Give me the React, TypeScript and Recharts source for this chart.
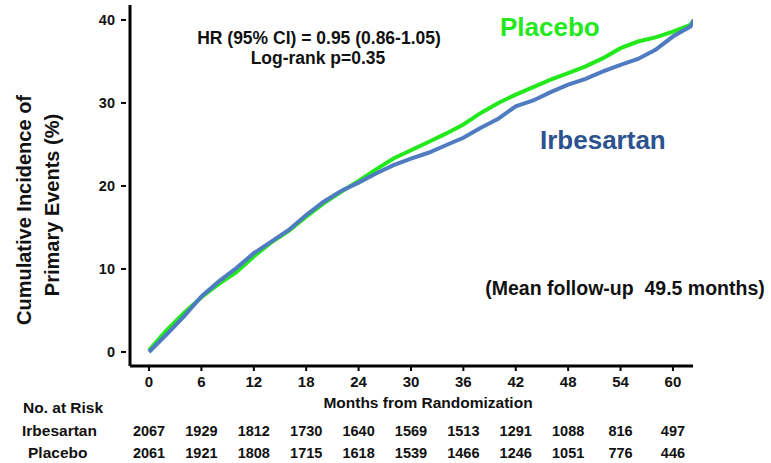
import { LineChart, Line, XAxis, YAxis } from "recharts";

// cumulative incidence curves
const months = [0, 2, 4, 6, 8, 10, 12, 14, 16, 18, 20, 22, 24, 26, 28, 30, 32, 34, 36, 38, 40, 42, 44, 46, 48, 50, 52, 54, 56, 58, 60, 62, 62.4];
const placebo = [0.2, 2.6, 4.7, 6.6, 8.2, 9.6, 11.5, 13.2, 14.6, 16.3, 17.9, 19.3, 20.6, 22.0, 23.3, 24.3, 25.3, 26.3, 27.4, 28.8, 30.0, 31.0, 31.9, 32.8, 33.6, 34.4, 35.4, 36.6, 37.4, 37.9, 38.6, 39.4, 40.0];
const irbesartan = [0.0, 2.1, 4.3, 6.7, 8.5, 10.1, 11.9, 13.3, 14.7, 16.5, 18.1, 19.4, 20.4, 21.5, 22.5, 23.3, 24.0, 24.9, 25.8, 27.0, 28.1, 29.6, 30.3, 31.3, 32.2, 32.9, 33.8, 34.6, 35.3, 36.4, 38.0, 39.2, 40.0];

// number at risk table
const riskMonths = [0, 6, 12, 18, 24, 30, 36, 42, 48, 54, 60];
const riskIrbesartan = [2067, 1929, 1812, 1730, 1640, 1569, 1513, 1291, 1088, 816, 497];
const riskPlacebo = [2061, 1921, 1808, 1715, 1618, 1539, 1466, 1246, 1051, 776, 446];

const yTicks = [0, 10, 20, 30, 40];

const FONT = "'Liberation Sans', Arial, Helvetica, sans-serif";
const GREEN = "#22e81c";
const BLUE = "#4f7cc0";
const BLUE_TEXT = "#2c5290";

const data = months.map((m, i) => ({
  month: m,
  placebo: placebo[i],
  irbesartan: irbesartan[i],
}));

const XTick = ({ x, y, payload }: any) => {
  const i = riskMonths.indexOf(payload.value);
  return (
    <g fontFamily={FONT} fontWeight="bold" fill="#111">
      <line x1={x} x2={x} y1={y} y2={y + 5} stroke="#000" strokeWidth={2} />
      <text x={x} y={y + 21} textAnchor="middle" fontSize={15}>
        {payload.value}
      </text>
      <text x={x} y={y + 70} textAnchor="middle" fontSize={14.5}>
        {riskIrbesartan[i]}
      </text>
      <text x={x} y={y + 92} textAnchor="middle" fontSize={14.5}>
        {riskPlacebo[i]}
      </text>
    </g>
  );
};

const YTick = ({ x, y, payload }: any) => (
  <g fontFamily={FONT} fontWeight="bold" fontSize={14.5} fill="#111">
    <text x={x - 15} y={y + 5} textAnchor="end">
      {payload.value}
    </text>
    <line x1={x - 9} x2={x - 4} y1={y} y2={y} stroke="#000" strokeWidth={2} />
  </g>
);

export default function App() {
  return (
    <div style={{ position: "absolute", left: 0, top: 0, width: 771, height: 463, background: "#fff" }}>
      <LineChart
        width={771}
        height={463}
        data={data}
        margin={{ top: 5, right: 78, left: 0, bottom: 67 }}
      >
        <XAxis
          dataKey="month"
          type="number"
          domain={[-2.18, 62.3]}
          allowDataOverflow
          ticks={riskMonths}
          interval={0}
          height={30}
          tickSize={0}
          tickMargin={0}
          axisLine={{ stroke: "#000", strokeWidth: 3 }}
          tickLine={false}
          tick={<XTick />}
        />
        <YAxis
          type="number"
          domain={[-1.69, 41.8]}
          allowDataOverflow
          ticks={yTicks}
          width={130}
          tickSize={0}
          tickMargin={0}
          axisLine={{ stroke: "#000", strokeWidth: 3 }}
          tickLine={false}
          tick={<YTick />}
        />
        <Line
          dataKey="placebo"
          type="linear"
          stroke={GREEN}
          strokeWidth={4}
          dot={false}
          isAnimationActive={false}
        />
        <Line
          dataKey="irbesartan"
          type="linear"
          stroke={BLUE}
          strokeWidth={4}
          dot={false}
          isAnimationActive={false}
        />

        {/* y axis title */}
        <text
          transform="translate(31,210) rotate(-90)"
          textAnchor="middle"
          fontFamily={FONT}
          fontWeight="bold"
          fontSize={20}
          fill="#111"
        >
          Cumulative Incidence of
        </text>
        <text
          transform="translate(59,205) rotate(-90)"
          textAnchor="middle"
          fontFamily={FONT}
          fontWeight="bold"
          fontSize={20}
          fill="#111"
        >
          Primary Events (%)
        </text>

        <g fontFamily={FONT} fontWeight="bold" fill="#111">
          <text x={319} y={44} textAnchor="middle" fontSize={17.5}>
            HR (95% CI) = 0.95 (0.86-1.05)
          </text>
          <text x={318} y={64} textAnchor="middle" fontSize={17.5}>
            Log-rank p=0.35
          </text>
          <text x={625} y={295} textAnchor="middle" fontSize={19.5}>
            {"(Mean follow-up\u00a0 49.5 months)"}
          </text>
          <text x={428} y={408} textAnchor="middle" fontSize={15.5}>
            Months from Randomization
          </text>
          <text x={23} y={413} fontSize={15.5}>
            No. at Risk
          </text>
          <text x={22} y={436} fontSize={15.5}>
            Irbesartan
          </text>
          <text x={28} y={458} fontSize={15.5}>
            Placebo
          </text>
        </g>
        <text x={500} y={36} fontFamily={FONT} fontWeight="bold" fontSize={26} fill={GREEN}>
          Placebo
        </text>
        <text x={540} y={149} fontFamily={FONT} fontWeight="bold" fontSize={26} fill={BLUE_TEXT}>
          Irbesartan
        </text>
      </LineChart>
    </div>
  );
}
